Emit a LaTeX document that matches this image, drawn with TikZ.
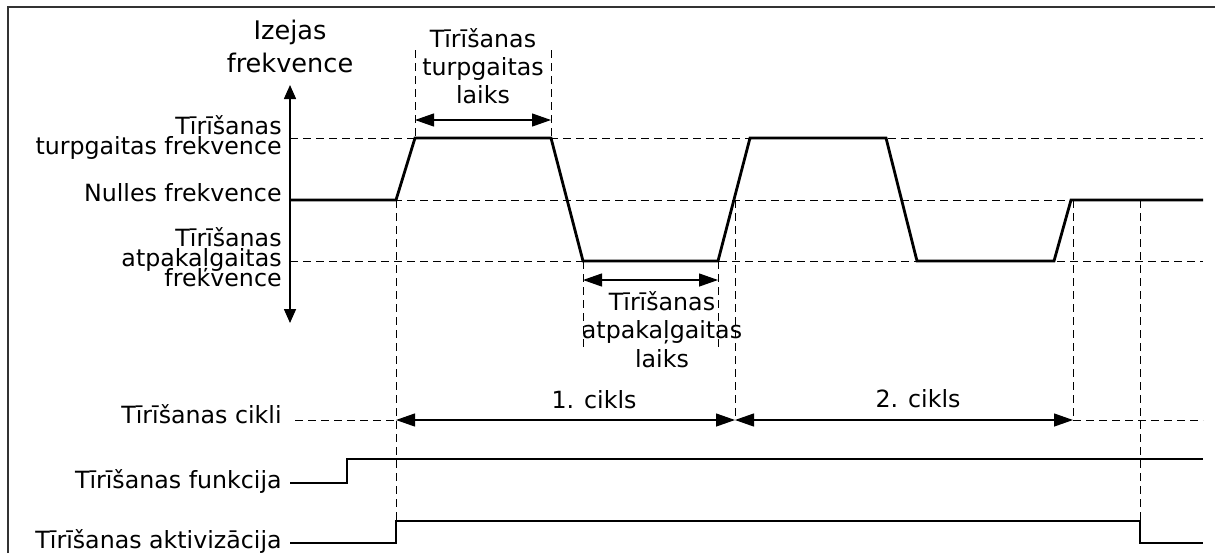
\documentclass[tikz,border=0pt]{standalone}
\usepackage{fontspec}
\setmainfont{DejaVu Sans}
\usetikzlibrary{arrows.meta}

\begin{document}
\begin{tikzpicture}[x=0.5pt, y=-0.5pt,
    every node/.style={inner sep=0pt, font=\fontsize{11.85}{14}\selectfont},
    tight/.style={font=\fontsize{11.85}{#1}\selectfont, execute at begin node={\lineskiplimit=-100pt\relax}},
    signal/.style={line width=1.4pt},
    guide/.style={dash pattern=on 4pt off 2.5pt, line width=0.5pt},
    span/.style={{Triangle[length=9.5pt,width=6.5pt]}-{Triangle[length=9.5pt,width=6.5pt]}, line width=0.6pt}]

    \useasboundingbox (0,0) rectangle (1215,553);

    % frame
    \draw[line width=1pt, black!80] (8,553) -- (8,7) -- (1215,7);

    % axis
    \draw[{Triangle[length=7pt,width=6pt]}-{Triangle[length=7pt,width=6pt]}, line width=0.8pt] (290,85) -- (290,323);
    \node[anchor=base, align=center, font=\fontsize{12.8}{16.5}\selectfont] (outfreq) at (290,72) {Izejas\\frekvence};

    % level labels
    \node[anchor=base east, align=right, tight=10pt] (fwdfreq) at (282,154) {Tīrīšanas\\turpgaitas frekvence};
    \node[anchor=base east] (zerofreq) at (282,201) {Nulles frekvence};
    \node[anchor=base east, align=right, tight=9.8pt] (revfreq) at (282,286) {Tīrīšanas\\atpakaļgaitas\\frekvence};

    % level guides
    \draw[guide] (290,138) -- (1203,138);
    \draw[guide] (290,200) -- (1203,200);
    \draw[guide] (290,261) -- (1203,261);

    % time guides
    \draw[guide] (415,50) -- (415,138);
    \draw[guide] (551,50) -- (551,138);
    \draw[guide] (583,261) -- (583,348);
    \draw[guide] (718,261) -- (718,348);
    \draw[guide] (396,200) -- (396,521);
    \draw[guide] (735,200) -- (735,420);
    \draw[guide] (1073,200) -- (1073,420);
    \draw[guide] (1140,200) -- (1140,521);

    % output frequency
    \draw[signal] (290,200) -- (396,200) -- (415,138) -- (551,138) -- (583,261) -- (718,261)
        -- (750,138) -- (886,138) -- (917,261) -- (1054,261) -- (1071,200) -- (1203,200);

    % forward time
    \coordinate (fwdstart) at (415,120);
    \coordinate (fwdend) at (551,120);
    \draw[span] (fwdstart) -- (fwdend);
    \node[anchor=base, align=center, tight=14pt] (fwdtime) at (483,103) {Tīrīšanas\\turpgaitas\\laiks};

    % reverse time
    \coordinate (revstart) at (583,280);
    \coordinate (revend) at (718,280);
    \draw[span] (revstart) -- (revend);
    \node[anchor=base, align=center, tight=14.25pt] (revtime) at (662,367) {Tīrīšanas\\atpakaļgaitas\\laiks};

    % cycles
    \node[anchor=base east] (cycles) at (282,423) {Tīrīšanas cikli};
    \coordinate (cyc0) at (396,420);
    \coordinate (cyc1end) at (735,420);
    \coordinate (cyc2end) at (1073,420);
    \draw[guide] (295,420) -- (cyc0);
    \draw[span] (cyc0) -- (cyc1end);
    \draw[span] (cyc1end) -- (cyc2end);
    \draw[guide] (cyc2end) -- (1203,420);
    \node[anchor=base] (cyc1) at (594,408) {1. cikls};
    \node[anchor=base] (cyc2) at (918,407) {2. cikls};

    % function
    \node[anchor=base east] (func) at (282,488) {Tīrīšanas funkcija};
    \draw[signal] (290,483) -- (347,483) -- (347,459) -- (1203,459);

    % activation
    \node[anchor=base east] (activ) at (282,548) {Tīrīšanas aktivizācija};
    \draw[signal] (290,543) -- (396,543) -- (396,521) -- (1140,521) -- (1140,543) -- (1203,543);

\end{tikzpicture}
\end{document}
